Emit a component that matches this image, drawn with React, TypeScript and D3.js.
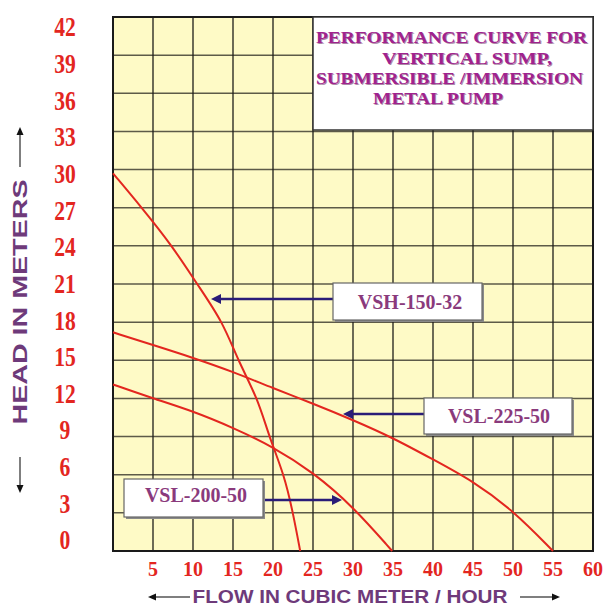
import React from "react";
import * as d3 from "d3";

const flowTicks = [5, 10, 15, 20, 25, 30, 35, 40, 45, 50, 55, 60];
const headTicks = [0, 3, 6, 9, 12, 15, 18, 21, 24, 27, 30, 33, 36, 39, 42];

const vshFlow = [0, 3.6, 7.4, 10.5, 13.75, 15.6, 18.1, 19.5, 21.4, 22.5, 23.4];
const vshHead = [29.7, 27, 24, 21, 18, 15, 12, 9, 6, 3, 0];

const vsl225Flow = [0, 5, 10, 15, 20, 25, 30, 35, 40, 45, 50, 55];
const vsl225Head = [17.2, 16.2, 15.2, 14.1, 12.8, 11.6, 10.3, 8.9, 7.2, 5.5, 3.2, 0];

const vsl200Flow = [0, 5, 10, 15, 20, 25, 30, 34.9];
const vsl200Head = [13.1, 12.0, 11.0, 9.7, 8.2, 6.2, 3.5, 0];

const seriesNames = ["VSH-150-32", "VSL-225-50", "VSL-200-50"];
const titleLines = ["PERFORMANCE CURVE FOR", "VERTICAL  SUMP,", "SUBMERSIBLE /IMMERSION", "METAL PUMP"];

const W = 608, H = 607;
const L = 113, R = 593, T = 17, B = 551;

export default function App() {
  const x = d3.scaleLinear().domain([0, 60]).range([L, R]);
  const y = d3.scaleLinear().domain([0, 42]).range([B, T]);
  const yLab = d3.scaleLinear().domain([0, 42]).range([540, 27]);
  const line = d3.line<[number, number]>().x(d => x(d[0])).y(d => y(d[1])).curve(d3.curveBasis);
  const series = [
    vshFlow.map((f, i) => [f, vshHead[i]] as [number, number]),
    vsl225Flow.map((f, i) => [f, vsl225Head[i]] as [number, number]),
    vsl200Flow.map((f, i) => [f, vsl200Head[i]] as [number, number]),
  ];
  const red = "#e3261f";
  const purple = "#8a3a7c";
  const navy = "#2a1c78";
  const boxes = [
    { b: [333, 283, 482, 320], ay: 299, from: 333, tip: 211, tx: 410, ty: 309 },
    { b: [424, 398, 572, 434], ay: 414, from: 424, tip: 343, tx: 499, ty: 423 },
    { b: [124, 479, 263, 517], ay: 500, from: 263, tip: 342, tx: 196, ty: 502 },
  ];
  const hLines = headTicks;
  const vLines = [0, ...flowTicks];
  const titleY = [43, 63.5, 84, 104];
  const titleX = [316, 382, 316, 373];
  const titleW = [271, 170, 267, 130];
  return (
    <svg width={W} height={H} style={{ position: "absolute", left: 0, top: 0 }}>
      <rect x={0} y={0} width={W} height={H} fill="#fff" />
      <rect x={L} y={T} width={R - L} height={B - T} fill="#fefac6" />
      {hLines.map(h => (
        <line key={"h" + h} x1={L} x2={R} y1={y(h)} y2={y(h)} stroke="#5d5a48" strokeWidth={1.5} />
      ))}
      {vLines.map(f => (
        <line key={"v" + f} x1={x(f)} x2={x(f)} y1={T} y2={B} stroke="#1e1e1a" strokeWidth={1.3} />
      ))}
      <rect x={L} y={T} width={R - L} height={B - T} fill="none" stroke="#1a1a1a" strokeWidth={2} />
      {series.map((s, i) => (
        <path key={i} d={line(s) || ""} fill="none" stroke={red} strokeWidth={2} />
      ))}
      <rect x={313} y={17} width={280} height={113} fill="#fff" stroke="#333" strokeWidth={1.5} />
      {titleLines.map((t, i) => (
        <g key={t}>
          <text x={titleX[i] + 1} y={titleY[i] + 1} textLength={titleW[i]} lengthAdjust="spacingAndGlyphs"
            fontFamily="Liberation Serif, serif" fontWeight="bold" fontSize={17} fill="#5a1050" opacity={0.5}>{t}</text>
          <text x={titleX[i]} y={titleY[i]} textLength={titleW[i]} lengthAdjust="spacingAndGlyphs"
            fontFamily="Liberation Serif, serif" fontWeight="bold" fontSize={17} fill="#a0228e">{t}</text>
        </g>
      ))}
      {boxes.map((bx, i) => {
        const dir = bx.tip < bx.from ? -1 : 1;
        const tipBase = bx.tip - dir * 10;
        return (
          <g key={i}>
            <line x1={bx.from} x2={tipBase} y1={bx.ay} y2={bx.ay} stroke={navy} strokeWidth={2.5} />
            <path d={`M${bx.tip},${bx.ay} L${tipBase},${bx.ay - 5} L${tipBase},${bx.ay + 5} Z`} fill={navy} />
            <rect x={bx.b[0] + 2} y={bx.b[1] + 2} width={bx.b[2] - bx.b[0]} height={bx.b[3] - bx.b[1]} fill="#8a8a8a" />
            <rect x={bx.b[0]} y={bx.b[1]} width={bx.b[2] - bx.b[0]} height={bx.b[3] - bx.b[1]} fill="#fff" stroke="#666" strokeWidth={1.2} />
            <text x={bx.tx} y={bx.ty} textAnchor="middle" fontFamily="Liberation Serif, serif" fontWeight="bold"
              fontSize={20} fill={purple}>{seriesNames[i]}</text>
          </g>
        );
      })}
      {headTicks.map(h => (
        <text key={"yl" + h} transform={`translate(65,${yLab(h)}) scale(0.8,1)`} textAnchor="middle" dominantBaseline="central"
          fontFamily="Liberation Serif, serif" fontWeight="bold" fontSize={27} fill={red}>{h}</text>
      ))}
      {flowTicks.map(f => (
        <text key={"xl" + f} x={x(f)} y={576} textAnchor="middle" fontFamily="Liberation Serif, serif"
          fontWeight="bold" fontSize={20} fill={red}>{f}</text>
      ))}
      <text transform="translate(27,302) rotate(-90)" textAnchor="middle" textLength={245} lengthAdjust="spacingAndGlyphs"
        fontFamily="Liberation Sans, Arial, sans-serif" fontWeight="bold" fontSize={21} fill="#6e3a7a">HEAD IN METERS</text>
      <line x1={20} x2={20} y1={167} y2={134} stroke="#555" strokeWidth={1.5} />
      <path d="M20,127 L16.5,135 L23.5,135 Z" fill="#111" />
      <line x1={20} x2={20} y1={457} y2={486} stroke="#555" strokeWidth={1.5} />
      <path d="M20,493 L16.5,485 L23.5,485 Z" fill="#111" />
      <text x={350} y={603} textAnchor="middle" textLength={315} lengthAdjust="spacingAndGlyphs"
        fontFamily="Liberation Sans, Arial, sans-serif" fontWeight="bold" fontSize={19} fill="#6e3a7a">FLOW IN CUBIC METER / HOUR</text>
      <line x1={190} x2={155} y1={597} y2={597} stroke="#555" strokeWidth={1.5} />
      <path d="M148,597 L156,593.5 L156,600.5 Z" fill="#111" />
      <line x1={520} x2={553} y1={597} y2={597} stroke="#555" strokeWidth={1.5} />
      <path d="M560,597 L552,593.5 L552,600.5 Z" fill="#111" />
    </svg>
  );
}
